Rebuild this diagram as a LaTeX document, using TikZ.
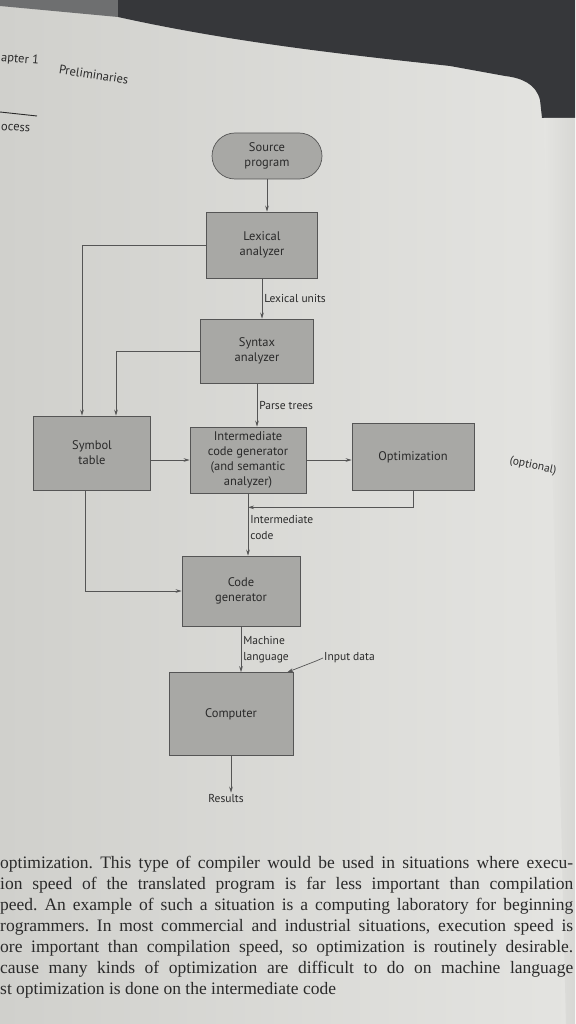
\documentclass[tikz,border=0pt]{standalone}
\usepackage{fontspec}
\setmainfont{Liberation Serif}
\newfontfamily\labelfont{PT Sans}
\usetikzlibrary{arrows.meta,positioning,calc}
\definecolor{page}{HTML}{D0D0CC}
\definecolor{pagelight}{HTML}{E4E4E1}
\definecolor{boxgray}{HTML}{A8A8A5}
\definecolor{ink}{HTML}{2A2A2A}
\definecolor{backdrop}{HTML}{36373A}
\definecolor{shadowgray}{HTML}{6E6F70}
\frenchspacing

\begin{document}
\begin{tikzpicture}[x=1pt,y=-1pt,>={Stealth[length=6pt,width=3.6pt]},
  stage/.style={draw=ink!80,fill=boxgray,line width=.7pt,align=center,text=ink,
    font=\labelfont\fontsize{12.5}{15}\selectfont,inner sep=2pt},
  flow/.style={->,draw=ink!80,line width=.7pt},
  tag/.style={align=left,text=ink,font=\labelfont\fontsize{11.5}{16}\selectfont,inner sep=1pt},
  header/.style={anchor=west,text=ink,font=\labelfont\fontsize{12.5}{14}\selectfont,inner sep=0pt},
  prose/.style={align=left,text=ink,font=\fontsize{17.5}{21}\selectfont,inner sep=0pt}]
\clip (0,0) rectangle (575,1024);
\shade[left color=page,right color=pagelight] (0,0) rectangle (575,1024);
\fill[shadowgray] (0,0) -- (118,0) -- (118,17) -- (0,6) -- cycle;
\fill[backdrop] (118,0) -- (575,0) -- (575,118) -- (542,118) -- (540,100)
  .. controls (536,84) and (522,78) .. (505,76) -- (450,66)
  .. controls (360,56) and (240,44) .. (118,17) -- cycle;
\shade[left color=pagelight,right color=page!85] (544,118) -- (575,118) -- (575,1024) -- (566,1024) -- cycle;

\node[header,rotate=-5] (chap) at (1,58) {apter 1};
\node[header,rotate=-9] (sect) at (59,69) {Preliminaries};
\draw[ink,line width=.9pt] (0,112) -- (37,116);
\node[header,rotate=-4] (fig) at (1,127) {ocess};

\node[stage,minimum width=110pt,minimum height=46pt,rounded corners=23pt] (src) at (267,156) {Source\\program};
\node[stage,minimum width=111pt,minimum height=66pt] (lex) at (262,245) {Lexical\\analyzer};
\node[stage,minimum width=113pt,minimum height=64pt] (syn) at (257,351) {Syntax\\analyzer};
\node[stage,minimum width=117pt,minimum height=74pt] (sym) at (92,453) {Symbol\\table};
\node[stage,minimum width=116pt,minimum height=66pt] (icg) at (248,460) {Intermediate\\code generator\\(and semantic\\analyzer)};
\node[stage,minimum width=122pt,minimum height=67pt] (opt) at (413,457) {Optimization};
\node[stage,minimum width=118pt,minimum height=70pt] (cg) at (241,591) {Code\\generator};
\node[stage,minimum width=124pt,minimum height=83pt] (comp) at (231,714) {Computer};
\node[tag] (res) at (226,798) {Results};
\node[tag,rotate=-12] (optional) at (533,466) {(optional)};
\node[tag,anchor=west] (indata) at (323,658) {Input data};

\draw[flow] (src.south) -- (src.south |- lex.north);
\draw[flow] (lex.south) -- (lex.south |- syn.north) node[tag,midway,right=1pt]{Lexical units};
\draw[flow] (syn.south) -- (syn.south |- icg.north) node[tag,midway,right=1pt]{Parse trees};
\draw[flow] (icg.south) -- (icg.south |- cg.north) node[tag,pos=.55,right=1pt]{Intermediate\\code};
\draw[flow] (cg.south) -- (cg.south |- comp.north) node[tag,midway,right=1pt]{Machine\\language};
\draw[flow] (comp.south) -- (comp.south |- res.north);
\draw[flow] (lex.west) -| ([xshift=-10pt]sym.north);
\draw[flow] (syn.west) -| ([xshift=24pt]sym.north);
\draw[flow] (sym.east |- icg) -- (icg.west);
\draw[flow] (icg.east) -- (icg.east -| opt.west);
\draw[flow] (opt.south) |- ([yshift=-14pt]icg.south);
\draw[flow] ([xshift=-7pt]sym.south) |- (cg.west);
\draw[flow] (indata.west) -- ++(-7,3) -- ([xshift=-6pt]comp.north east);

\node[prose,anchor=north west] (body) at (0,856) {%
\makebox[573pt][s]{optimization. This type of compiler would be used in situations where execu-}\\
\makebox[573pt][s]{ion speed of the translated program is far less important than compilation}\\
\makebox[573pt][s]{peed. An example of such a situation is a computing laboratory for beginning}\\
\makebox[573pt][s]{rogrammers. In most commercial and industrial situations, execution speed is}\\
\makebox[573pt][s]{ore important than compilation speed, so optimization is routinely desirable.}\\
\makebox[573pt][s]{cause many kinds of optimization are difficult to do on machine language}\\
st optimization is done on the intermediate code};
\end{tikzpicture}
\end{document}
